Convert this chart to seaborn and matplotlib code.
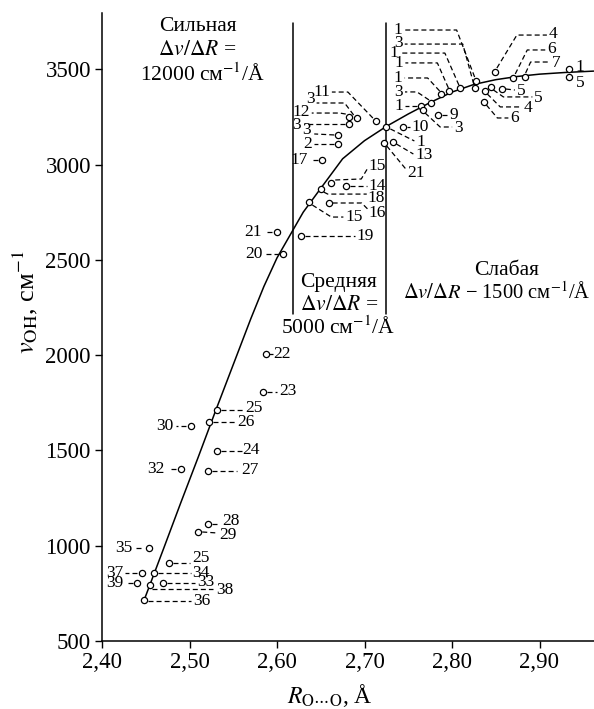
import matplotlib
matplotlib.use("Agg")
import matplotlib.pyplot as plt
import seaborn as sns

# smoothed dependence nu(OH) vs R(O...O)
curve_r = [2.449, 2.470, 2.490, 2.510, 2.530, 2.550, 2.570, 2.585, 2.600, 2.615,
           2.630, 2.650, 2.675, 2.700, 2.725, 2.750, 2.775, 2.800, 2.825, 2.850,
           2.875, 2.900, 2.930, 2.962]
curve_nu = [725, 980, 1225, 1465, 1710, 1950, 2190, 2360, 2510, 2630,
            2750, 2875, 3030, 3125, 3200, 3265, 3325, 3380, 3420, 3445,
            3462, 3474, 3483, 3490]

# experimental points
point_labels = ["35", "37", "34", "39", "38", "33", "36", "25", "28", "29",
                "22", "23", "25", "26", "30", "24", "32", "27", "21", "20",
                "19", "15", "14", "18", "16", "15", "17", "2", "3", "3",
                "12", "3", "11", "1", "10", "13", "21", "1", "3", "1",
                "1", "1", "3", "1", "3", "9", "4", "6", "7", "1",
                "5", "5", "5", "4", "6"]
r_oo = [2.454, 2.446, 2.459, 2.440, 2.455, 2.470, 2.448, 2.477, 2.521, 2.510,
        2.587, 2.584, 2.531, 2.522, 2.502, 2.531, 2.490, 2.521, 2.600, 2.607,
        2.627, 2.662, 2.679, 2.650, 2.659, 2.637, 2.651, 2.670, 2.670, 2.682,
        2.682, 2.691, 2.713, 2.725, 2.744, 2.733, 2.722, 2.827, 2.826, 2.809,
        2.797, 2.787, 2.776, 2.765, 2.767, 2.784, 2.849, 2.870, 2.883, 2.934,
        2.934, 2.857, 2.845, 2.838, 2.837]
nu_oh = [988, 857, 857, 804, 794, 804, 715, 909, 1114, 1072,
         2006, 1806, 1712, 1649, 1628, 1497, 1402, 1392, 2646, 2530,
         2625, 2903, 2887, 2871, 2798, 2803, 3024, 3108, 3155, 3212,
         3249, 3244, 3228, 3197, 3197, 3118, 3113, 3438, 3401, 3401,
         3386, 3370, 3323, 3307, 3286, 3260, 3485, 3454, 3459, 3501,
         3459, 3396, 3407, 3386, 3328]

# region boundaries
boundary_r = [2.618, 2.725]
boundary_nu = [2215, 3740]

x_ticks = [2.40, 2.50, 2.60, 2.70, 2.80, 2.90]
x_tick_labels = ["2,40", "2,50", "2,60", "2,70", "2,80", "2,90"]
y_ticks = [500, 1000, 1500, 2000, 2500, 3000, 3500]

# leader lines / label anchors, pixel offsets from the point (x right, y down)
label_layout = [
    ([(-8, 0), (-15, 0)], (-17, 0), "right"),
    ([(-5, 0), (-17, 0)], (-19, 0), "right"),
    ([(4, 0), (37, 0)], (39, 0), "left"),
    ([(-4, 0), (-12, 0)], (-14, 0), "right"),
    ([(2, 4), (63, 4)], (66, 5), "left"),
    ([(4, 0), (32, 0)], (34, -1), "left"),
    ([(4, 1), (47, 1)], (49, 1), "left"),
    ([(4, 0), (21, 0)], (23, -5), "left"),
    ([(4, 0), (12, 0)], (14, -3), "left"),
    ([(4, 0), (19, 1)], (21, 3), "left"),
    ([(3, 0), (7, 0)], (8, 0), "left"),
    ([(4, 0), (14, 0)], (16, -1), "left"),
    ([(4, 0), (27, 0)], (29, -2), "left"),
    ([(4, 0), (27, 0)], (29, 0), "left"),
    ([(-5, 0), (-15, 0)], (-18, 0), "right"),
    ([(4, 0), (25, 0)], (26, -1), "left"),
    ([(-5, 0), (-13, 0)], (-16, 0), "right"),
    ([(4, 0), (29, 0)], (33, -1), "left"),
    ([(-5, 0), (-12, 0)], (-15, 0), "right"),
    ([(-4, 0), (-17, 0)], (-21, 0), "right"),
    ([(4, 0), (54, 0)], (56, 0), "left"),
    ([(4, -3), (30, -4), (36, -14)], (37, -17), "left"),
    ([(4, 0), (21, 0)], (22, 0), "left"),
    ([(3, 3), (7, 5), (46, 5)], (47, 9), "left"),
    ([(4, 0), (33, 0), (40, 7)], (40, 10), "left"),
    ([(3, 3), (22, 15), (34, 15)], (36, 15), "left"),
    ([(-4, 0), (-12, 0)], (-14, 0), "right"),
    ([(-4, 0), (-24, 0)], (-26, 0), "right"),
    ([(-4, 0), (-24, -1)], (-27, -5), "right"),
    ([(-4, 0), (-45, 0)], (-48, 1), "right"),
    ([(-3, -3), (-9, -4), (-37, -4)], (-39, -5), "right"),
    ([(-3, -3), (-12, -15), (-40, -15)], (-42, -19), "right"),
    ([(-3, -3), (-28, -29), (-44, -29)], (-46, -29), "right"),
    ([(4, 2), (28, 14)], (30, 15), "left"),
    ([(4, 0), (7, 0)], (8, 0), "left"),
    ([(3, 2), (20, 12)], (22, 13), "left"),
    ([(3, 3), (22, 26)], (24, 30), "left"),
    ([(-1, -4), (-19, -51), (-72, -51)], (-73, -51), "right"),
    ([(-1, -4), (-12, -44), (-70, -44)], (-72, -45), "right"),
    ([(-1, -3), (-15, -35), (-60, -35)], (-62, -35), "right"),
    ([(-1, -3), (-12, -28), (-44, -28)], (-46, -28), "right"),
    ([(-1, -3), (-13, -16), (-36, -16)], (-38, -16), "right"),
    ([(-2, -3), (-14, -11), (-26, -11)], (-28, -11), "right"),
    ([(-4, 0), (-16, 0)], (-18, 0), "right"),
    ([(2, 3), (17, 17), (29, 17)], (31, 18), "left"),
    ([(4, 0), (10, 0)], (12, 0), "left"),
    ([(2, -4), (22, -37), (52, -37)], (54, -38), "left"),
    ([(2, -4), (14, -28), (32, -28)], (34, -29), "left"),
    ([(1, -4), (6, -15), (25, -15)], (27, -14), "left"),
    ([], (6, -2), "left"),
    ([], (7, 6), "left"),
    ([(4, 0), (13, 1)], (15, 2), "left"),
    ([(2, 3), (12, 10), (41, 10)], (43, 11), "left"),
    ([(2, 3), (15, 16), (36, 16)], (38, 17), "left"),
    ([(2, 3), (13, 16), (24, 16)], (26, 16), "left"),
]

sns.set_theme(style="ticks", rc={
    "axes.edgecolor": "black", "xtick.color": "black", "ytick.color": "black",
    "text.color": "black", "axes.labelcolor": "black",
})
plt.rcParams["font.family"] = ["Liberation Serif", "DejaVu Serif"]
plt.rcParams["mathtext.fontset"] = "stix"
plt.rcParams["lines.scale_dashes"] = False

W, H = 594, 709
fig = plt.figure(figsize=(W / 100, H / 100), dpi=100)
ax = fig.add_axes([102 / W, 68 / H, 492 / W, 628 / H])

sns.lineplot(x=curve_r, y=curve_nu, ax=ax, color="black", linewidth=1.1, zorder=2)
for r in boundary_r:
    ax.plot([r, r], boundary_nu, color="black", linewidth=1.1, zorder=1)
sns.scatterplot(x=r_oo, y=nu_oh, ax=ax, marker="o", s=20, facecolor="white",
                edgecolor="black", linewidth=0.9, zorder=3)

ax.set_xlim(2.40, 2.40 + 492 / 875)
ax.set_ylim(500, 500 + 628 * 500 / 95.3)
ax.set_xticks(x_ticks)
ax.set_xticklabels(x_tick_labels)
ax.set_yticks(y_ticks)
ax.tick_params(direction="out", length=5, width=1.0, labelsize=16.5, pad=3)
sns.despine(ax=ax)
for s in ["left", "bottom"]:
    ax.spines[s].set_linewidth(1.1)
ax.set_xlabel("")
ax.set_ylabel("")

# labels with dashed leaders
to_disp = ax.transData
to_data = ax.transData.inverted()
for r, v, lab, (path, (tx, ty), ha) in zip(r_oo, nu_oh, point_labels, label_layout):
    if path:
        px, py = to_disp.transform((r, v))
        pts = [to_data.transform((px + dx, py - dy)) for dx, dy in path]
        ax.plot([p[0] for p in pts], [p[1] for p in pts], color="black",
                linewidth=0.9, linestyle=(0, (3.6, 2.2)), zorder=2)
    ax.annotate(lab, xy=(r, v), xytext=(tx * 0.72, -ty * 0.72), textcoords="offset points",
                ha=ha, va="center", fontsize=12.5)


def axfrac(x, y):
    return (x - 102) / 492, (641 - y) / 628


region_texts = [
    ("Сильная", 198, 26, 15.5),
    ("$\\Delta v/\\Delta R$ =", 197, 50, 15.5),
    ("12000 см$^{-1}$/Å", 202, 75, 15.5),
    ("Средняя", 339, 282, 15.5),
    ("$\\Delta v/\\Delta R$ =", 339, 305, 15.5),
    ("5000 см$^{-1}$/Å", 338, 328, 15.5),
    ("Слабая", 507, 270, 15.5),
    ("$\\Delta v/\\Delta R$ − 1500 см$^{-1}$/Å", 497, 293, 14.8),
]
for txt, x, y, fs in region_texts:
    fx, fy = axfrac(x, y)
    ax.text(fx, fy, txt, transform=ax.transAxes, ha="center", va="center", fontsize=fs)

fig.text(25 / W, 1 - 302 / H, "$v_{\\mathrm{OH}}$, см$^{-1}$", rotation=90,
         ha="center", va="center", fontsize=19)
fig.text(330 / W, 1 - 703 / H, "$R_{\\mathrm{O\\cdots O}}$, Å", ha="center",
         va="baseline", fontsize=17)

fig.savefig("out.png", dpi=100)
